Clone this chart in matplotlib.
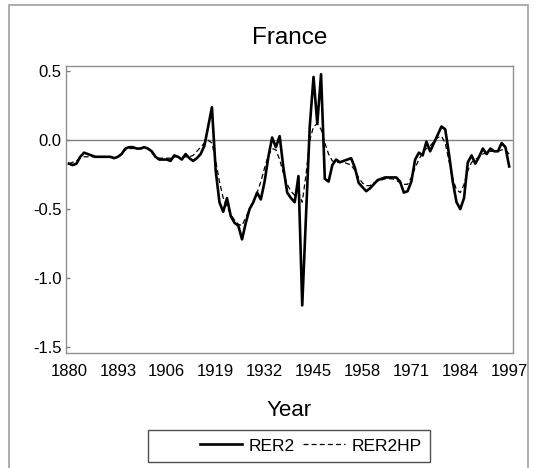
import matplotlib.pyplot as plt
from matplotlib.patches import Rectangle
import numpy as np

plt.rcParams['font.family'] = ['Liberation Sans', 'DejaVu Sans']

years = np.arange(1880, 1998)

rer2 = [
    -0.17, -0.18, -0.17, -0.12, -0.09, -0.10, -0.11, -0.12, -0.12, -0.12,   # 1880s
    -0.12, -0.12, -0.13, -0.12, -0.10, -0.06, -0.05, -0.05, -0.06, -0.06,   # 1890s
    -0.05, -0.06, -0.08, -0.12, -0.14, -0.14, -0.14, -0.15, -0.11, -0.12,   # 1900s
    -0.14, -0.10, -0.13, -0.15, -0.13, -0.10, -0.04, 0.10, 0.24, -0.22,     # 1910s
    -0.45, -0.52, -0.42, -0.55, -0.60, -0.62, -0.72, -0.60, -0.50, -0.45,   # 1920s
    -0.38, -0.43, -0.30, -0.12, 0.02, -0.05, 0.03, -0.20, -0.38, -0.42,     # 1930s
    -0.45, -0.26, -1.20, -0.55, 0.10, 0.46, 0.12, 0.48, -0.28, -0.30,       # 1940s
    -0.18, -0.14, -0.16, -0.15, -0.14, -0.13, -0.20, -0.31, -0.34, -0.37,   # 1950s
    -0.35, -0.32, -0.29, -0.28, -0.27, -0.27, -0.27, -0.27, -0.30, -0.38,   # 1960s
    -0.37, -0.30, -0.14, -0.09, -0.11, -0.01, -0.08, -0.02, 0.04, 0.10,     # 1970s
    0.08, -0.10, -0.30, -0.45, -0.50, -0.42, -0.16, -0.11, -0.17, -0.12,    # 1980s
    -0.06, -0.10, -0.06, -0.08, -0.08, -0.02, -0.05, -0.19,                 # 1990s
]

rer2hp = [
    -0.17, -0.16, -0.15, -0.13, -0.12, -0.12, -0.12, -0.12, -0.12, -0.12,
    -0.12, -0.12, -0.12, -0.12, -0.09, -0.07, -0.06, -0.06, -0.06, -0.06,
    -0.06, -0.06, -0.09, -0.12, -0.13, -0.13, -0.13, -0.13, -0.12, -0.12,
    -0.12, -0.12, -0.12, -0.11, -0.08, -0.05, -0.02, 0.00, -0.02, -0.15,
    -0.30, -0.42, -0.48, -0.54, -0.58, -0.61, -0.62, -0.56, -0.50, -0.44,
    -0.38, -0.30, -0.20, -0.11, -0.06, -0.07, -0.14, -0.24, -0.32, -0.37,
    -0.40, -0.38, -0.45, -0.25, 0.00, 0.10, 0.12, 0.08, -0.02, -0.10,
    -0.15, -0.16, -0.16, -0.16, -0.17, -0.18, -0.22, -0.27, -0.31, -0.33,
    -0.33, -0.31, -0.30, -0.29, -0.28, -0.28, -0.28, -0.29, -0.31, -0.32,
    -0.32, -0.27, -0.20, -0.14, -0.09, -0.06, -0.04, -0.01, 0.02, 0.03,
    -0.02, -0.15, -0.28, -0.36, -0.38, -0.32, -0.22, -0.16, -0.14, -0.12,
    -0.10, -0.09, -0.08, -0.08, -0.08, -0.07, -0.07, -0.10,
]

xticks = [1880, 1893, 1906, 1919, 1932, 1945, 1958, 1971, 1984, 1997]
yticks = [0.5, 0.0, -0.5, -1.0, -1.5]

fig = plt.figure(figsize=(5.36, 4.68), dpi=100)
ax = fig.add_axes([0.123, 0.246, 0.834, 0.613])

ax.axhline(0, color='#808080', lw=1.0, zorder=1)
l1, = ax.plot(years, rer2, color='black', lw=1.9, label='RER2', zorder=3)
l2, = ax.plot(years, rer2hp, color='black', lw=0.9, ls=(0, (4, 2.5)), label='RER2HP', zorder=2)

ax.set_xlim(1879.2, 1998.0)
ax.set_ylim(-1.545, 0.54)
ax.set_xticks(xticks)
ax.set_yticks(yticks)
ax.set_yticklabels(['0.5', '0.0', '-0.5', '-1.0', '-1.5'])
ax.tick_params(axis='x', length=0, pad=8, labelsize=12)
ax.tick_params(axis='y', direction='in', length=3, width=1, color='#808080', pad=3, labelsize=12)
for s in ax.spines.values():
    s.set_color('#909090')
    s.set_linewidth(1.0)

ax.set_title('France', fontsize=17.5, pad=16)
ax.set_xlabel('Year', fontsize=16, labelpad=15)

# legend box and outer frame
fig.patches.append(Rectangle((148 / 536, 1 - 462 / 468), 282 / 536, 32 / 468,
                             transform=fig.transFigure, fill=False,
                             edgecolor='#505050', lw=1.0))
fig.patches.append(Rectangle((9 / 536, -0.1), 519 / 536, 1.1 - 5 / 468,
                             transform=fig.transFigure, fill=False,
                             edgecolor='#a0a0a0', lw=1.2))
fig.legend(handles=[l1, l2], loc='center', bbox_to_anchor=(311 / 536, 1 - 446 / 468),
           ncol=2, frameon=False, fontsize=12.5, handlelength=2.4,
           columnspacing=0.5, handletextpad=0.4)

fig.savefig('out.png', dpi=100)
